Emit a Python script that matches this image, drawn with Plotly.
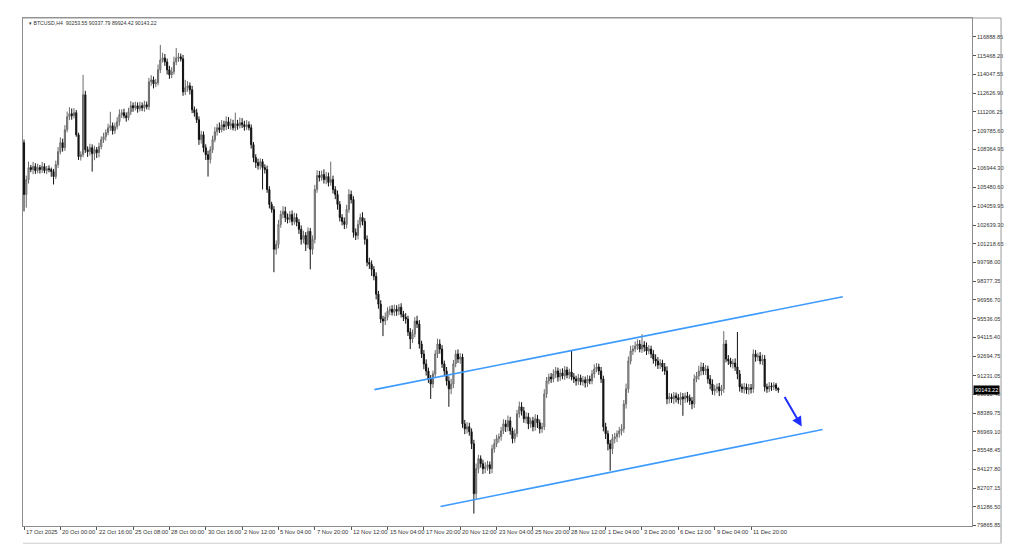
import plotly.graph_objects as go

# ---------------- data ----------------
symbol_header = "BTCUSD,H4  90253.55 90337.79 89924.42 90143.22"
first_open = 108880

closes = [
    104950, 106080, 106990, 106840, 107070, 106760, 106990, 106840, 107070, 106760,
    106910, 106840, 106690, 106310, 107220, 108200, 108880, 108500, 109860, 110840,
    111070, 110920, 111150, 109480, 107820, 107970, 112510, 108350, 108200, 108500,
    108050, 108350, 108120, 108580, 109110, 109330, 109640, 110010, 110160, 109790,
    110090, 110470, 111000, 111150, 110920, 110770, 111220, 111680, 111520, 111680,
    111450, 111680, 111520, 111750, 111600, 113490, 113640, 113340, 113410, 114400,
    115150, 115300, 115000, 114400, 114020, 114250, 115000, 115300, 115380, 115230,
    112730, 113040, 113190, 112880, 111370, 111150, 110620, 109110, 109480, 108500,
    107970, 107600, 108350, 109110, 109710, 110010, 109860, 110240, 110090, 110470,
    110160, 110310, 110010, 110310, 110160, 110390, 110240, 110090, 110240, 110010,
    108730, 107750, 107370, 107140, 107440, 106990, 106840, 105330, 104200, 103820,
    100800, 101170, 102680, 103440, 103670, 103210, 103060, 103440, 102910, 103210,
    102840, 102310, 101550, 101850, 101170, 102160, 100800, 101550, 105330, 106390,
    106240, 106460, 106080, 106310, 105860, 106080, 105330, 104950, 104200, 103210,
    102910, 102680, 103820, 104950, 104570, 102080, 101850, 102680, 103210, 102910,
    101550, 99810, 99660, 99280, 98750, 97400, 96640, 95510, 95360, 95660,
    96110, 96260, 96030, 96260, 96110, 96410, 95880, 95660, 95510, 94530,
    94000, 94370, 95360, 95130, 93620, 92860, 92110, 91580, 90970, 90590,
    91350, 92860, 93620, 93240, 92110, 91580, 90820, 90220, 90590, 92110,
    92860, 92480, 92630, 87570, 87190, 87350, 86970, 86060, 82280, 84170,
    84930, 84550, 84170, 84320, 84470, 84170, 85680, 86060, 86440, 86590,
    87040, 87570, 87350, 87800, 87040, 86440, 86820, 88330, 88860, 88550,
    87950, 88100, 87570, 87800, 87350, 87950, 87650, 87190, 87350, 89840,
    90820, 91120, 90970, 91350, 91580, 91120, 91430, 91200, 91650, 91270,
    91500, 91120, 90970, 90820, 91050, 90750, 90900, 90670, 90970, 90820,
    91350, 91730, 91880, 91580, 90970, 87350, 86820, 86060, 85680, 86440,
    86590, 86820, 87040, 87190, 89080, 90220, 92330, 93090, 93240, 93470,
    93620, 93240, 93540, 93390, 93090, 93240, 92860, 92480, 92330, 92030,
    92180, 91880, 91580, 89460, 89610, 89460, 89690, 89540, 89390, 89610,
    89460, 89690, 89540, 89310, 89080, 90970, 91200, 91580, 91880, 91580,
    91730, 90970, 90590, 90070, 90220, 90370, 90070, 90220, 93620, 92480,
    92330, 92110, 92180, 91880, 91350, 90370, 90220, 90370, 90140, 90290,
    90220, 92860, 92630, 92710, 92330, 92480, 90370, 90220, 90440, 90370,
    90520, 90253.55, 90143.22,
]

upper_wick = [
    230, 300, 450, 200, 350, 250, 300, 200, 350, 250,
    200, 250, 150, 200, 300, 350, 400, 300, 350, 400,
    500, 400, 350, 200, 150, 250, 1510, 300, 250, 300,
    250, 300, 200, 300, 250, 300, 250, 300, 1060, 250,
    300, 350, 400, 250, 300, 250, 300, 350, 250, 300,
    250, 300, 250, 300, 250, 300, 350, 250, 300, 400,
    1140, 400, 300, 250, 300, 350, 400, 760, 300, 250,
    300, 600, 350, 250, 300, 250, 300, 250, 300, 250,
    250, 300, 250, 300, 350, 300, 400, 350, 300, 400,
    350, 400, 300, 840, 300, 400, 350, 300, 350, 250,
    250, 200, 250, 300, 250, 200, 250, 300, 250, 200,
    250, 300, 350, 300, 400, 350, 300, 250, 300, 350,
    300, 250, 300, 350, 250, 300, 250, 300, 350, 400,
    350, 300, 400, 350, 300, 1360, 300, 250, 300, 250,
    250, 300, 350, 400, 300, 250, 300, 350, 300, 400,
    250, 300, 350, 300, 250, 300, 250, 300, 250, 350,
    300, 250, 300, 350, 300, 250, 300, 250, 300, 250,
    300, 350, 300, 400, 300, 250, 300, 350, 250, 300,
    250, 300, 400, 350, 300, 250, 300, 350, 400, 300,
    300, 350, 300, 250, 300, 350, 300, 250, 300, 400,
    300, 250, 300, 350, 300, 250, 300, 350, 300, 250,
    300, 350, 300, 400, 300, 250, 350, 300, 400, 350,
    300, 350, 300, 250, 300, 350, 300, 250, 300, 350,
    300, 250, 300, 350, 300, 250, 300, 350, 300, 250,
    250, 1590, 300, 250, 300, 250, 300, 250, 300, 250,
    300, 350, 300, 250, 300, 250, 300, 250, 300, 350,
    300, 250, 300, 350, 300, 400, 350, 400, 300, 350,
    350, 300, 830, 300, 350, 300, 250, 300, 350, 300,
    300, 250, 300, 350, 300, 250, 300, 250, 300, 350,
    300, 250, 300, 250, 300, 350, 300, 400, 350, 300,
    300, 250, 300, 350, 300, 250, 300, 300, 980, 300,
    300, 250, 300, 350, 2650, 300, 250, 300, 250, 300,
    300, 350, 300, 250, 300, 350, 300, 250, 300, 250,
    200, 150, 84.24,
]

lower_wick = [
    1280, 1000, 300, 200, 350, 250, 200, 300, 250, 200,
    250, 200, 400, 600, 200, 250, 200, 300, 250, 200,
    250, 300, 200, 150, 250, 300, 200, 250, 400, 300,
    1360, 500, 400, 350, 200, 250, 300, 200, 250, 300,
    250, 200, 300, 250, 200, 300, 200, 250, 300, 200,
    300, 200, 250, 300, 200, 250, 300, 350, 250, 200,
    250, 200, 300, 350, 300, 250, 200, 250, 300, 200,
    300, 250, 300, 350, 250, 300, 250, 400, 300, 350,
    400, 1290, 300, 250, 200, 300, 250, 200, 300, 250,
    250, 300, 200, 250, 300, 200, 250, 300, 250, 200,
    300, 350, 400, 300, 300, 1660, 300, 250, 300, 250,
    1740, 400, 300, 250, 300, 350, 300, 250, 300, 250,
    300, 350, 400, 300, 500, 300, 1520, 400, 300, 250,
    300, 250, 300, 350, 300, 250, 300, 350, 400, 300,
    300, 350, 300, 250, 300, 400, 350, 300, 250, 300,
    400, 300, 350, 500, 300, 400, 350, 300, 1140, 300,
    250, 300, 250, 300, 350, 300, 250, 300, 350, 300,
    760, 300, 250, 300, 350, 300, 400, 350, 300, 1130,
    300, 250, 300, 350, 300, 400, 350, 1360, 400, 300,
    250, 300, 350, 300, 400, 350, 300, 400, 1510, 400,
    350, 300, 400, 350, 300, 400, 350, 300, 250, 300,
    300, 250, 400, 350, 300, 350, 300, 250, 300, 350,
    300, 350, 400, 300, 350, 300, 400, 350, 300, 250,
    300, 250, 300, 250, 300, 350, 300, 250, 300, 250,
    300, 250, 300, 350, 300, 250, 300, 350, 300, 250,
    250, 300, 250, 300, 300, 350, 400, 500, 1660, 400,
    350, 400, 300, 350, 300, 350, 300, 250, 300, 250,
    300, 250, 300, 350, 300, 250, 300, 350, 400, 300,
    300, 350, 300, 400, 350, 300, 400, 350, 300, 400,
    1280, 300, 350, 300, 400, 300, 250, 300, 350, 300,
    300, 350, 400, 300, 350, 300, 400, 350, 300, 250,
    300, 250, 350, 300, 400, 350, 300, 350, 300, 350,
    350, 300, 350, 300, 250, 300, 350, 300, 250, 300,
    250, 200, 218.8,
]

# x-axis labels (every 16 H4 bars)
time_labels = [
    "17 Oct 2025", "20 Oct 00:00", "22 Oct 16:00", "25 Oct 08:00", "28 Oct 00:00",
    "30 Oct 16:00", "2 Nov 12:00", "5 Nov 04:00", "7 Nov 20:00", "12 Nov 12:00",
    "15 Nov 04:00", "17 Nov 20:00", "20 Nov 12:00", "23 Nov 04:00", "25 Nov 20:00",
    "28 Nov 12:00", "1 Dec 04:00", "3 Dec 20:00", "6 Dec 12:00", "9 Dec 04:00",
    "11 Dec 20:00",
]
time_label_bars = [16 * k for k in range(len(time_labels))]

# price-axis labels
price_ticks = [
    116888.85, 115468.20, 114047.55, 112626.90, 111206.25, 109785.60, 108364.95,
    106944.30, 105480.60, 104059.95, 102639.30, 101218.65, 99798.00, 98377.35,
    96956.70, 95536.05, 94115.40, 92694.75, 91231.05, 89810.40, 88389.75,
    86969.10, 85548.45, 84127.80, 82707.15, 81286.50, 79865.85,
]
last_price = 90143.22

# channel lines (bar index, price)
upper_channel_bars = [154.2, 360.4]
upper_channel_prices = [90163, 97204]
lower_channel_bars = [183.3, 351.5]
lower_channel_prices = [81305, 87135]
# projected move arrow (from -> to)
arrow_bars = [334.4, 342.3]
arrow_prices = [89709, 87362]

# ---------------- build ----------------
assert len(closes) == len(upper_wick) == len(lower_wick) == 333
bars = list(range(len(closes)))
opens = [first_open] + closes[:-1]
highs = [max(o, c) + u for o, c, u in zip(opens, closes, upper_wick)]
lows = [min(o, c) - l for o, c, l in zip(opens, closes, lower_wick)]

fig = go.Figure()
fig.add_trace(go.Candlestick(
    x=bars, open=opens, high=highs, low=lows, close=closes,
    increasing=dict(line=dict(color="#6a6a6a", width=1), fillcolor="#b4b4b4"),
    decreasing=dict(line=dict(color="#111111", width=1), fillcolor="#111111"),
    showlegend=False, hoverinfo="skip",
))
fig.add_trace(go.Scatter(x=upper_channel_bars, y=upper_channel_prices, mode="lines",
                         line=dict(color="#3d9bff", width=1.6), showlegend=False, hoverinfo="skip"))
fig.add_trace(go.Scatter(x=lower_channel_bars, y=lower_channel_prices, mode="lines",
                         line=dict(color="#3d9bff", width=1.6), showlegend=False, hoverinfo="skip"))

font_fam = "Liberation Sans, Arial, sans-serif"
annotations = []
annotations.append(dict(
    x=arrow_bars[1], y=arrow_prices[1], ax=arrow_bars[0], ay=arrow_prices[0],
    xref="x", yref="y", axref="x", ayref="y", text="", showarrow=True,
    arrowhead=2, arrowsize=1, arrowwidth=2, arrowcolor="#1f2fff",
))
for b, lab in zip(time_label_bars, time_labels):
    annotations.append(dict(x=b, y=-0.011, xref="x", yref="paper", text=lab,
                            showarrow=False, xanchor="left", yanchor="middle", xshift=0,
                            font=dict(family=font_fam, size=5.8, color="#333333")))
annotations.append(dict(x=0.004, y=0.991, xref="paper", yref="paper",
                        text="▾ " + symbol_header, showarrow=False,
                        xanchor="left", yanchor="middle",
                        font=dict(family=font_fam, size=5.2, color="#333333")))
annotations.append(dict(x=1.0, y=last_price, xref="paper", yref="y",
                        text=f"{last_price:.2f}", showarrow=False, xanchor="left",
                        yanchor="middle", xshift=1, bgcolor="#000000", borderpad=1,
                        font=dict(family=font_fam, size=5.6, color="#ffffff")))

xr = 1.0306
yb = -0.034
shapes = [
    dict(type="line", xref="paper", yref="paper", x0=0, x1=xr, y0=1, y1=1,
         line=dict(color="#9a9a9a", width=1)),
    dict(type="line", xref="paper", yref="paper", x0=xr, x1=xr, y0=yb, y1=1,
         line=dict(color="#9a9a9a", width=1)),
    dict(type="line", xref="paper", yref="paper", x0=0, x1=xr, y0=yb, y1=yb,
         line=dict(color="#cfcfcf", width=1)),
]

# page body has an 8px default margin: size/margins compensate for it
fig.update_layout(
    width=1016, height=551,
    margin=dict(l=15, r=52, t=10, b=32.5),
    paper_bgcolor="white", plot_bgcolor="white",
    showlegend=False,
    annotations=annotations,
    shapes=shapes,
    xaxis=dict(
        range=[-0.44, 417.25], rangeslider=dict(visible=False),
        showgrid=False, zeroline=False, automargin=False,
        tickmode="array", tickvals=time_label_bars, ticktext=[""] * len(time_label_bars),
        ticks="outside", ticklen=3, tickcolor="#555555", showticklabels=False,
        showline=True, linecolor="#8c8c8c", linewidth=1, mirror=True,
    ),
    yaxis=dict(
        range=[79828, 118327], side="right",
        showgrid=False, zeroline=False, automargin=False,
        tickmode="array", tickvals=price_ticks,
        ticktext=[f"{v:.2f}" for v in price_ticks],
        ticks="outside", ticklen=3, tickcolor="#555555",
        tickfont=dict(family=font_fam, size=5.6, color="#333333"),
        showline=True, linecolor="#8c8c8c", linewidth=1, mirror=True,
    ),
)

fig.write_html("out.html")
